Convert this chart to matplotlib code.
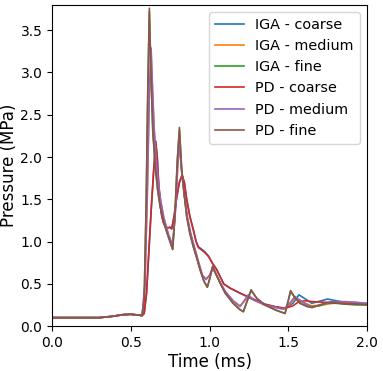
import matplotlib
matplotlib.use("Agg")
import matplotlib.pyplot as plt

# ---- data (time in ms, pressure in MPa) ----
t_fine = [0.0, 0.3, 0.38, 0.45, 0.5, 0.55, 0.572, 0.585, 0.598, 0.608, 0.618, 0.628, 0.64,
          0.657, 0.67, 0.686, 0.71, 0.74, 0.766, 0.78, 0.795, 0.809, 0.823, 0.84, 0.855, 0.875,
          0.897, 0.92, 0.94, 0.965, 0.986, 1.0, 1.02, 1.04, 1.067, 1.1, 1.15, 1.19, 1.215,
          1.24, 1.264, 1.3, 1.352, 1.42, 1.48, 1.5, 1.515, 1.545, 1.575, 1.62, 1.65, 1.7,
          1.75, 1.8, 1.86, 1.93, 2.0]
p_iga_fine = [0.1, 0.1, 0.115, 0.135, 0.14, 0.13, 0.125, 0.3, 1.45, 2.75, 3.72, 3.0, 2.3,
              1.86, 1.62, 1.42, 1.22, 1.05, 0.91, 1.3, 1.93, 2.32, 1.86, 1.55, 1.3, 1.1,
              0.94, 0.8, 0.667, 0.53, 0.46, 0.55, 0.7, 0.62, 0.51, 0.39, 0.27, 0.2, 0.17,
              0.3, 0.42, 0.33, 0.25, 0.19, 0.15, 0.3, 0.41, 0.33, 0.27, 0.24, 0.23, 0.24,
              0.27, 0.27, 0.26, 0.25, 0.25]
p_pd_fine = [0.1, 0.1, 0.115, 0.135, 0.14, 0.13, 0.125, 0.3, 1.5, 2.8, 3.76, 3.0, 2.3,
             1.86, 1.62, 1.42, 1.22, 1.05, 0.905, 1.3, 1.95, 2.35, 1.86, 1.55, 1.3, 1.1,
             0.94, 0.8, 0.667, 0.53, 0.46, 0.55, 0.71, 0.62, 0.51, 0.39, 0.27, 0.2, 0.17,
             0.3, 0.43, 0.33, 0.25, 0.19, 0.15, 0.3, 0.42, 0.33, 0.27, 0.23, 0.22, 0.25,
             0.28, 0.28, 0.26, 0.26, 0.25]

t_medium = [0.0, 0.3, 0.38, 0.45, 0.5, 0.55, 0.572, 0.59, 0.605, 0.618, 0.629, 0.638, 0.648,
            0.66, 0.675, 0.69, 0.71, 0.74, 0.766, 0.785, 0.798, 0.809, 0.822, 0.84, 0.86,
            0.88, 0.9, 0.93, 0.955, 0.978, 1.0, 1.02, 1.04, 1.07, 1.1, 1.15, 1.194, 1.22,
            1.246, 1.28, 1.35, 1.42, 1.47, 1.5, 1.543, 1.58, 1.65, 1.72, 1.78, 1.86, 1.93, 2.0]
p_iga_medium = [0.1, 0.1, 0.115, 0.135, 0.14, 0.13, 0.125, 0.5, 1.55, 2.75, 3.25, 2.8, 2.35,
                2.0, 1.7, 1.48, 1.28, 1.08, 0.96, 1.4, 1.88, 2.15, 1.85, 1.55, 1.28,
                1.1, 0.96, 0.76, 0.6, 0.56, 0.6, 0.68, 0.62, 0.51, 0.41, 0.3, 0.24, 0.29,
                0.35, 0.31, 0.25, 0.22, 0.2, 0.24, 0.33, 0.29, 0.24, 0.25, 0.27, 0.28, 0.27, 0.27]
p_pd_medium = [0.1, 0.1, 0.115, 0.135, 0.14, 0.13, 0.125, 0.5, 1.6, 2.8, 3.29, 2.8, 2.35,
               2.0, 1.7, 1.48, 1.28, 1.08, 0.95, 1.4, 1.9, 2.18, 1.85, 1.55, 1.28,
               1.1, 0.96, 0.76, 0.6, 0.55, 0.6, 0.69, 0.62, 0.51, 0.41, 0.3, 0.23, 0.3,
               0.37, 0.31, 0.25, 0.22, 0.2, 0.25, 0.35, 0.3, 0.22, 0.26, 0.29, 0.29, 0.28, 0.27]

t_coarse = [0.0, 0.3, 0.38, 0.45, 0.5, 0.55, 0.572, 0.585, 0.6, 0.615, 0.63, 0.645, 0.658,
            0.668, 0.678, 0.686, 0.697, 0.708, 0.72, 0.735, 0.748, 0.76, 0.775, 0.79, 0.808,
            0.826, 0.84, 0.855, 0.875, 0.897, 0.915, 0.929, 0.95, 0.97, 0.993, 1.02, 1.046,
            1.09, 1.13, 1.194, 1.268, 1.35, 1.416, 1.48, 1.53, 1.568, 1.61, 1.65, 1.75, 1.86,
            1.93, 2.0]
p_iga_coarse = [0.1, 0.1, 0.115, 0.135, 0.14, 0.13, 0.125, 0.15, 0.38, 0.88, 1.38, 1.82, 2.18,
                2.0, 1.65, 1.45, 1.3, 1.22, 1.18, 1.16, 1.17, 1.15, 1.3, 1.5, 1.69,
                1.78, 1.7, 1.5, 1.3, 1.14, 1.0, 0.94, 0.91, 0.88, 0.83, 0.74, 0.667,
                0.5, 0.45, 0.39, 0.32, 0.26, 0.23, 0.21, 0.27, 0.37, 0.32, 0.27, 0.32, 0.28,
                0.28, 0.27]
p_pd_coarse = [0.1, 0.1, 0.115, 0.135, 0.14, 0.13, 0.125, 0.15, 0.4, 0.9, 1.4, 1.84, 2.19,
               2.0, 1.65, 1.45, 1.3, 1.22, 1.18, 1.16, 1.17, 1.15, 1.3, 1.5, 1.7,
               1.79, 1.7, 1.5, 1.3, 1.14, 1.0, 0.93, 0.9, 0.87, 0.825, 0.74, 0.667,
               0.5, 0.45, 0.39, 0.33, 0.26, 0.23, 0.21, 0.24, 0.29, 0.3, 0.29, 0.28, 0.27,
               0.26, 0.26]

labels = ["IGA - coarse", "IGA - medium", "IGA - fine", "PD - coarse", "PD - medium", "PD - fine"]

series = [
    (t_coarse, p_iga_coarse),
    (t_medium, p_iga_medium),
    (t_fine, p_iga_fine),
    (t_coarse, p_pd_coarse),
    (t_medium, p_pd_medium),
    (t_fine, p_pd_fine),
]
colors = ["#1f77b4", "#ff7f0e", "#2ca02c", "#d62728", "#9467bd", "#8c564b"]

fig = plt.figure(figsize=(3.83, 3.71), dpi=100)
ax = fig.add_axes([0.136, 0.121, 0.822, 0.866])
for (t, p), lab, c in zip(series, labels, colors):
    ax.plot(t, p, color=c, lw=1.2, label=lab)

ax.set_xlim(0, 2.0)
ax.set_ylim(0, 3.8)
ax.set_xticks([0.0, 0.5, 1.0, 1.5, 2.0])
ax.set_yticks([0.0, 0.5, 1.0, 1.5, 2.0, 2.5, 3.0, 3.5])
ax.tick_params(labelsize=10)
ax.set_xlabel("Time (ms)", fontsize=12, labelpad=2)
ax.set_ylabel("Pressure (MPa)", fontsize=12, labelpad=2)
ax.legend(loc="upper right", fontsize=10.4)

fig.savefig("out.png", dpi=100)
